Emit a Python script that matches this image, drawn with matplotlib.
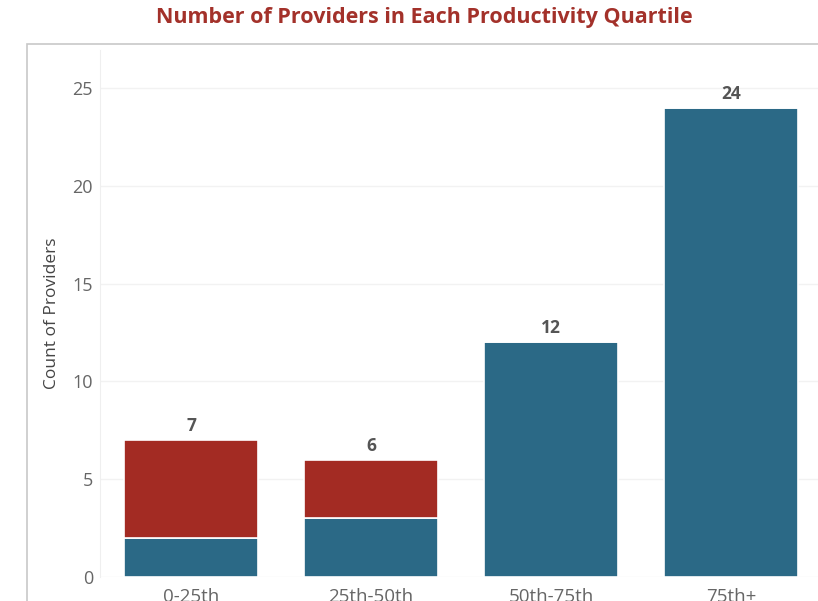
import matplotlib
matplotlib.use('Agg')
from matplotlib import pyplot as plt
from matplotlib.patches import Rectangle
import numpy as np

plt.rcParams['font.family'] = ['Open Sans', 'DejaVu Sans']

# data
quartiles = ['0-25th', '25th-50th', '50th-75th', '75th+']
blue_part = [2, 3, 12, 24]
red_part = [5, 3, 0, 0]
totals = [b + r for b, r in zip(blue_part, red_part)]
y_ticks = [0, 5, 10, 15, 20, 25]

BLUE = '#2b6986'
RED = '#a32b23'

fig = plt.figure(figsize=(8.18, 6.01), dpi=100)

# outer panel frame (cut at right/bottom like the screenshot)
fig.patches.append(Rectangle((27 / 818, -0.2), 1.0, 0.2 + (601 - 44) / 601,
                             transform=fig.transFigure, fill=False,
                             edgecolor='#c8c8c8', linewidth=1.2, zorder=0))

ax = fig.add_axes([100 / 818, 24 / 601, 718 / 818, 527 / 601])
x = np.arange(len(quartiles))
ax.bar(x, blue_part, width=0.744, color=BLUE, edgecolor='white', linewidth=1.2, zorder=3)
ax.bar(x, red_part, width=0.744, bottom=blue_part, color=RED, edgecolor='white', linewidth=1.2, zorder=3)

for xi, t in zip(x, totals):
    ax.text(xi, t + 0.25, str(t), ha='center', va='bottom', fontsize=12.5,
            fontweight='bold', color='#555555')

ax.set_xlim(-0.506, 3.483)
ax.set_ylim(0, 26.94)
ax.set_yticks(y_ticks)
ax.set_xticks(x)
ax.set_xticklabels(quartiles)
ax.tick_params(axis='both', length=0, labelsize=13, labelcolor='#666666')
ax.tick_params(axis='y', pad=5)
ax.tick_params(axis='x', pad=8, labelsize=13.5)
ax.grid(axis='y', color='#f2f2f2', linewidth=1, zorder=0)
ax.set_axisbelow(True)
for s in ['top', 'right', 'bottom']:
    ax.spines[s].set_visible(False)
ax.spines['left'].set_color('#efefef')
ax.set_ylabel('Count of Providers', fontsize=12.5, color='#444444', labelpad=9)

fig.text(424 / 818, 1 - 18 / 601, 'Number of Providers in Each Productivity Quartile',
         ha='center', va='center', fontsize=15.5, fontweight='bold', color='#a3312a')

fig.savefig('out.png', dpi=100)
